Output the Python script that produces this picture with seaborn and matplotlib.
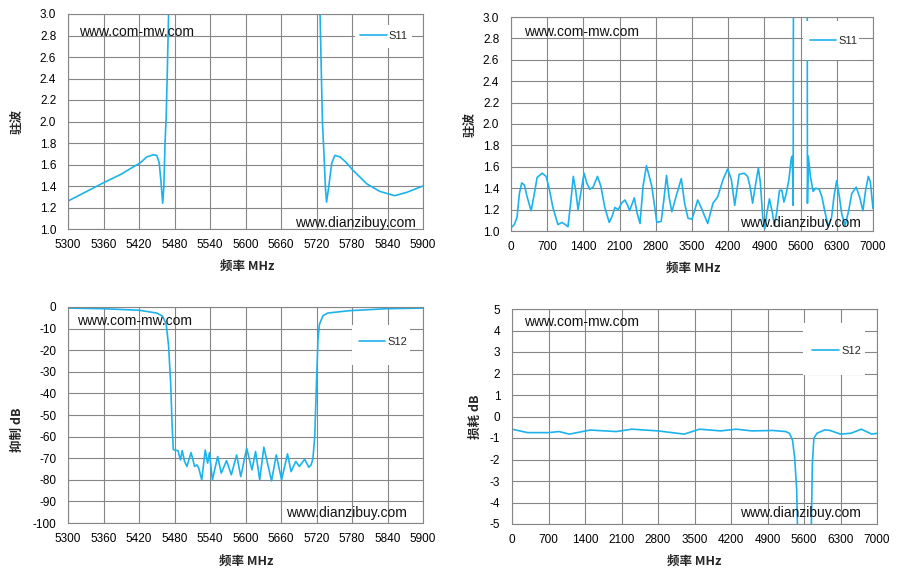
import numpy as np
import pandas as pd
import seaborn as sns
import matplotlib.pyplot as plt
from matplotlib.patches import Rectangle

# S11 (VSWR), narrow span 5300-5900 MHz
f_s11_nb = [5300, 5330, 5360, 5390, 5405, 5422, 5433, 5444, 5450, 5454, 5457, 5460,
            5462, 5464, 5466, 5468, 5470, 5472, 5724, 5726, 5728, 5730, 5732.6, 5735,
            5737, 5740.6, 5745.7, 5751, 5760, 5770, 5781, 5805, 5827, 5852, 5872, 5900]
s11_nb = [1.26, 1.345, 1.43, 1.51, 1.56, 1.615, 1.67, 1.69, 1.685, 1.62, 1.45, 1.24,
          1.39, 1.80, 2.05, 2.5, 3.0, 3.5, 3.5, 3.0, 2.5, 2.0, 1.70, 1.39,
          1.25, 1.39, 1.61, 1.685, 1.67, 1.62, 1.55, 1.42, 1.35, 1.31, 1.34, 1.40]

# S11 (VSWR), wide span 0-7000 MHz
f_s11_wb = [0, 65, 117, 162, 207, 259, 311, 389, 441, 505, 603, 680, 745, 810, 907, 985,
            1050, 1102, 1153, 1205, 1251, 1296, 1348, 1413, 1464, 1523, 1588, 1672, 1737,
            1814, 1899, 1957, 2009, 2074, 2138, 2203, 2255, 2294, 2385, 2437, 2495, 2554,
            2619, 2722, 2820, 2904, 2956, 3007, 3059, 3111, 3202, 3293, 3357, 3422, 3500,
            3610, 3694, 3803, 3906, 3997, 4100, 4190, 4261, 4326, 4412, 4510, 4575, 4620,
            4672, 4724, 4783, 4822, 4868, 4906, 4945, 4997, 5050, 5095, 5140, 5192, 5238,
            5277, 5322, 5374, 5420, 5440, 5456, 5462, 5728, 5732, 5748, 5790, 5842, 5894,
            5960, 6012, 6070, 6135, 6200, 6245, 6298, 6350, 6395, 6460, 6525, 6590, 6675,
            6740, 6805, 6857, 6909, 6948, 7000]
s11_wb = [1.03, 1.06, 1.13, 1.35, 1.45, 1.43, 1.32, 1.19, 1.32, 1.50, 1.54, 1.51, 1.38, 1.22, 1.06, 1.08,
          1.06, 1.04, 1.26, 1.51, 1.38, 1.20, 1.35, 1.54, 1.45, 1.39, 1.41, 1.51, 1.42,
          1.22, 1.08, 1.14, 1.22, 1.20, 1.26, 1.29, 1.24, 1.19, 1.31, 1.17, 1.07, 1.42,
          1.61, 1.42, 1.08, 1.09, 1.29, 1.52, 1.31, 1.18, 1.34, 1.49, 1.26, 1.12, 1.11,
          1.29, 1.20, 1.07, 1.26, 1.32, 1.48, 1.58, 1.48, 1.24, 1.53, 1.54, 1.51, 1.42,
          1.26, 1.42, 1.59, 1.45, 1.13, 1.02, 1.16, 1.30, 1.18, 1.05, 1.18, 1.38, 1.38,
          1.27, 1.35, 1.48, 1.68, 1.70, 1.24, 3.5, 3.5, 1.26, 1.70, 1.51, 1.37, 1.40,
          1.39, 1.32, 1.18, 1.04, 1.13, 1.32, 1.47, 1.32, 1.16, 1.05, 1.18, 1.35, 1.41,
          1.32, 1.19, 1.38, 1.51, 1.46, 1.21]

# S12 rejection (dB), narrow span
f_s12_nb = [5300, 5360, 5420, 5450, 5460, 5466, 5470, 5473.5, 5476, 5478, 5480, 5486, 5490,
            5493, 5497, 5501, 5508, 5514, 5518, 5521, 5526, 5532, 5536, 5539, 5544, 5553,
            5559, 5568, 5576, 5585, 5592, 5602, 5611, 5617, 5624, 5631, 5644, 5652, 5661,
            5671, 5677, 5685, 5691, 5700, 5707, 5711, 5714, 5717, 5720, 5722.5, 5725, 5731,
            5739, 5776, 5838, 5900]
s12_nb = [-0.5, -0.8, -1.5, -2.8, -4.3, -8, -18, -35, -55, -66, -66.2, -66.5, -70.8,
          -66.5, -71.5, -73.8, -67.4, -73.8, -73.1, -74.6, -80, -66.2, -72.3, -67.4, -80, -69.2,
          -76.9, -71.1, -77.7, -68.5, -78.5, -65.4, -75.4, -66.9, -80, -64.9, -80.5, -68.5, -80,
          -68, -76.2, -71.5, -73.8, -70.5, -74.2, -73.1, -70, -60, -35, -15, -8, -4,
          -2.8, -1.7, -0.8, -0.5]

# S12 insertion loss (dB), wide span
f_s12_wb = [0, 300, 700, 900, 1100, 1500, 2000, 2300, 2800, 3300, 3600, 4000, 4300, 4600,
            5000, 5250, 5320, 5380, 5420, 5460, 5482, 5500, 5720, 5738, 5760, 5790, 5850,
            6000, 6100, 6300, 6500, 6700, 6900, 7000]
s12_wb = [-0.59, -0.75, -0.75, -0.70, -0.82, -0.63, -0.70, -0.59, -0.67, -0.82, -0.59, -0.67, -0.59, -0.67,
          -0.65, -0.70, -0.78, -1.1, -1.9, -3.4, -6.0, -66, -70, -5.5, -2.2, -1.0, -0.78,
          -0.62, -0.65, -0.82, -0.78, -0.59, -0.82, -0.78]

nb_ticks = list(range(5300, 5901, 60))
wb_ticks = list(range(0, 7001, 700))

W, H = 900, 580
LINE = "#1CB3EC"
GRID = "#868686"
CJK = ["Noto Sans CJK SC", "DejaVu Sans"]

sns.set_style("white")
plt.rcParams["font.family"] = ["Liberation Sans", "DejaVu Sans"]


def fx(px):
    return px / W


def fy(py):
    return 1 - py / H


fig = plt.figure(figsize=(9, 5.8), dpi=100)

panels = [
    # axes box (l, t, r, b) in px, label / legend / watermark positions in px
    dict(box=(68, 14, 423, 229), x=f_s11_nb, y=s11_nb, name="S11", xt=nb_ticks,
         yl=(1.0, 3.0), yt=np.round(np.arange(1.0, 3.01, 0.2), 1), fmt="{:.1f}", ylab="驻波",
         ylpos=(17, 122), xlpos=(247, 266), lbox=(355, 25, 412, 48), lc=(384, 35.7),
         wm1=(79, 31.7), wm2=(295, 223)),
    dict(box=(511, 17, 873, 231), x=f_s11_wb, y=s11_wb, name="S11", xt=wb_ticks,
         yl=(1.0, 3.0), yt=np.round(np.arange(1.0, 3.01, 0.2), 1), fmt="{:.1f}", ylab="驻波",
         ylpos=(470, 125), xlpos=(693, 268), lbox=(803, 21, 859, 60), lc=(833.5, 41),
         wm1=(524, 32), wm2=(740, 223)),
    dict(box=(68, 307, 423, 523), x=f_s12_nb, y=s12_nb, name="S12", xt=nb_ticks,
         yl=(-100, 0), yt=list(range(-100, 1, 10)), fmt="{:.0f}", ylab="抑制 dB",
         ylpos=(17, 430), xlpos=(246, 561), lbox=(352, 325, 410, 365), lc=(383, 341.7),
         wm1=(77, 321), wm2=(286, 513)),
    dict(box=(512, 309, 877, 524), x=f_s12_wb, y=s12_wb, name="S12", xt=wb_ticks,
         yl=(-5, 5), yt=list(range(-5, 6, 1)), fmt="{:.0f}", ylab="损耗 dB",
         ylpos=(475, 417), xlpos=(694, 561), lbox=(803, 323, 865, 375), lc=(836.5, 350.7),
         wm1=(524, 322), wm2=(740, 513)),
]

for p in panels:
    l, t, r, b = p["box"]
    ax = fig.add_axes([fx(l), fy(b), fx(r - l), (b - t) / H])
    df = pd.DataFrame({"f": p["x"], "v": p["y"]})
    sns.lineplot(data=df, x="f", y="v", ax=ax, color=LINE, linewidth=1.2,
                 sort=False, estimator=None, label=p["name"])
    ax.set_xlim(p["xt"][0], p["xt"][-1])
    ax.set_ylim(*p["yl"])
    ax.set_xticks(p["xt"])
    ax.set_yticks(p["yt"])
    ax.set_yticklabels([p["fmt"].format(v) for v in p["yt"]])
    ax.grid(True, color=GRID, linewidth=0.8)
    for s in ax.spines.values():
        s.set_color(GRID)
        s.set_linewidth(0.8)
    ax.tick_params(axis="both", direction="out", length=3, width=0.8, color=GRID,
                   labelsize=8.5, labelcolor="black")
    ax.tick_params(axis="x", pad=4.5)
    ax.tick_params(axis="y", pad=5.5)

    ax.set_xlabel("频率 MHz", fontsize=9, fontweight="bold", family=CJK)
    ax.set_ylabel(p["ylab"], fontsize=9, fontweight="bold", family=CJK)
    ax.xaxis.set_label_coords(fx(p["xlpos"][0]), fy(p["xlpos"][1]), transform=fig.transFigure)
    ax.yaxis.set_label_coords(fx(p["ylpos"][0]), fy(p["ylpos"][1]), transform=fig.transFigure)
    ax.xaxis.label.set_va("center")
    ax.yaxis.label.set_va("center")

    # white legend box covering grid and curve
    bl, bt, br, bb = p["lbox"]
    ax.add_patch(Rectangle((fx(bl), fy(bb)), fx(br - bl), (bb - bt) / H,
                           transform=fig.transFigure, facecolor="white",
                           edgecolor="none", zorder=4, clip_on=False))
    leg = ax.legend(loc="center", bbox_to_anchor=(fx(p["lc"][0]), fy(p["lc"][1])),
                    bbox_transform=fig.transFigure, frameon=False, fontsize=8,
                    handlelength=2.4, handletextpad=0.2, borderpad=0, borderaxespad=0)
    leg.set_zorder(5)

    fig.text(fx(p["wm1"][0]), fy(p["wm1"][1]), "www.com-mw.com", fontsize=10,
             ha="left", va="center", color="#111111")
    fig.text(fx(p["wm2"][0]), fy(p["wm2"][1]), "www.dianzibuy.com", fontsize=10,
             ha="left", va="center", color="#111111")

plt.savefig("out.png", dpi=100)
